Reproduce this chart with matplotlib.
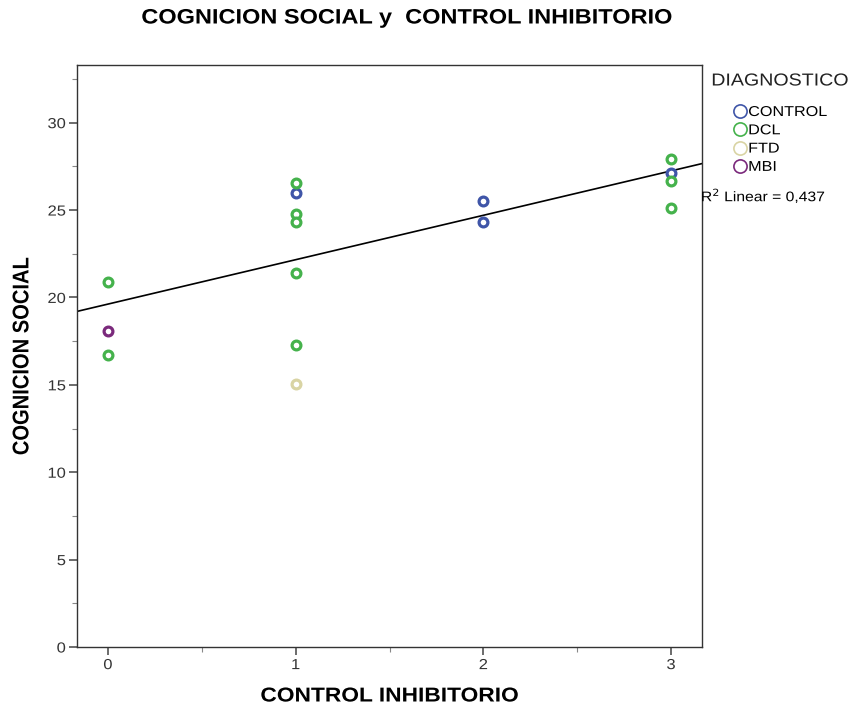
import matplotlib
matplotlib.use("Agg")
import matplotlib.pyplot as plt
from matplotlib.lines import Line2D
from matplotlib.patheffects import AbstractPathEffect
from matplotlib.transforms import Affine2D
import numpy as np

plt.rcParams['font.family'] = ['Liberation Sans', 'DejaVu Sans']

categories = ["CONTROL", "DCL", "FTD", "MBI"]
colors = {"CONTROL": "#3f55a8", "DCL": "#45b24c", "FTD": "#d9d4a4", "MBI": "#7b2a7c"}

control_x = [1, 2, 2, 3]
control_y = [26.0, 25.54, 24.29, 27.1]
dcl_x = [0, 0, 1, 1, 1, 1, 1, 3, 3, 3]
dcl_y = [20.9, 16.7, 26.57, 24.8, 24.3, 21.4, 17.26, 27.94, 26.69, 25.14]
ftd_x = [1]
ftd_y = [15.03]
mbi_x = [0]
mbi_y = [18.1]

series = {
    "CONTROL": (control_x, control_y),
    "DCL": (dcl_x, dcl_y),
    "FTD": (ftd_x, ftd_y),
    "MBI": (mbi_x, mbi_y),
}
# fitted line
fit_intercept = 19.62
fit_slope = 2.54
r2_label = "R$^2$ Linear = 0,437"

SX = 1.13  # horizontal stretch of the reference image


class HStretch(AbstractPathEffect):
    def __init__(self, sx, anchor="center"):
        super().__init__()
        self.sx = sx
        self.anchor = anchor

    def draw_path(self, renderer, gc, tpath, affine, rgbFace=None):
        ext = tpath.get_extents(affine)
        if self.anchor == "left":
            a = ext.x0
        elif self.anchor == "right":
            a = ext.x1
        else:
            a = 0.5 * (ext.x0 + ext.x1)
        new = affine + Affine2D().translate(-a, 0).scale(self.sx, 1).translate(a, 0)
        renderer.draw_path(gc, tpath, new, rgbFace)


fig = plt.figure(figsize=(8.52, 7.15), dpi=100)
ax = fig.add_axes([77/852, 68/715, 625/852, 582/715])

for cat in categories:
    xs, ys = series[cat]
    ax.scatter(xs, ys, s=40, facecolors='white', edgecolors=colors[cat],
               linewidths=2.3, zorder=3)

xlim = (-0.165, 3.165)
lx = np.array(xlim)
ax.plot(lx, fit_slope * lx + fit_intercept, color='black', lw=1.2, zorder=2)

ax.set_xlim(*xlim)
ax.set_ylim(0, 33.3)
ax.set_xticks([0, 1, 2, 3])
ax.set_xticks([0.5, 1.5, 2.5], minor=True)
ax.set_yticks([0, 5, 10, 15, 20, 25, 30])
ax.set_yticks([2.5, 7.5, 12.5, 17.5, 22.5, 27.5, 32.5], minor=True)
ax.tick_params(axis='both', which='major', length=6, width=1.1, color='#444444',
               labelsize=10.5, labelcolor='#333333', direction='out', pad=2)
ax.tick_params(axis='both', which='minor', length=3.5, width=0.8, color='#888888',
               direction='out')
for sp in ax.spines.values():
    sp.set_color('#333333')
    sp.set_linewidth(1.0)

xl = fig.text(390/852, 1 - 696/715, "CONTROL INHIBITORIO", ha='center', va='center',
              fontsize=14.5, fontweight='bold')
yl = fig.text(22/852, 1 - 356/715, "COGNICION SOCIAL", ha='center', va='center',
              rotation=90, fontsize=14.5, fontweight='bold')
tl = fig.text(407/852, 1 - 18/715, "COGNICION SOCIAL y  CONTROL INHIBITORIO",
              ha='center', va='center', fontsize=15, fontweight='bold')
for t in (xl, yl, tl):
    t.set_path_effects([HStretch(SX, "center")])

lt = fig.text(780/852, 1 - 81/715, "DIAGNOSTICO", ha='center', va='center',
              fontsize=12.5, color='#222222')
lt.set_path_effects([HStretch(SX, "center")])

handles = [Line2D([0], [0], marker='o', linestyle='none', markerfacecolor='white',
                  markeredgecolor=colors[c], markeredgewidth=1.2, markersize=9.5)
           for c in categories]
leg = fig.legend(handles, categories, loc='upper left',
                 bbox_to_anchor=(734/852, 1 - 105/715), frameon=False,
                 fontsize=10.3, handletextpad=0.1, labelspacing=0.3,
                 handlelength=0.9, borderaxespad=0, borderpad=0)
for t in leg.get_texts():
    t.set_path_effects([HStretch(SX, "left")])

rt = fig.text(701/852, 1 - 196/715, r2_label, ha='left', va='center', fontsize=10)
rt.set_path_effects([HStretch(SX, "left")])

fig.canvas.draw()
for t in ax.get_xticklabels():
    t.set_path_effects([HStretch(SX, "center")])
for t in ax.get_yticklabels():
    t.set_path_effects([HStretch(SX, "right")])

fig.savefig("out.png", dpi=100)
